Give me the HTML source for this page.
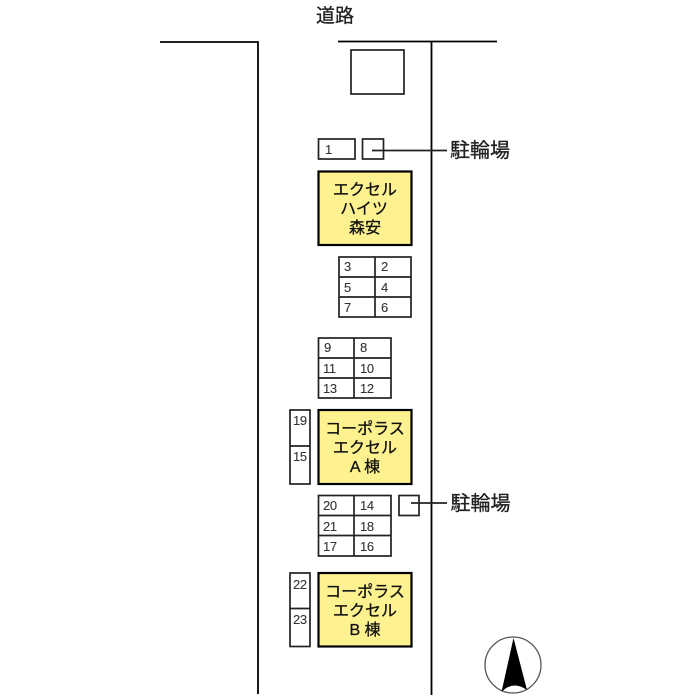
<!DOCTYPE html>
<html lang="ja">
<head>
<meta charset="utf-8">
<style>
html,body{margin:0;padding:0;background:#fff;}
svg{display:block;}
text{font-family:"Liberation Sans","Noto Sans CJK JP",sans-serif;fill:#222;}
.n{font-size:13px;fill:#333;stroke:#333;stroke-width:.1;letter-spacing:-.4px;}
.y{font-size:16px;text-anchor:middle;fill:#111;stroke:#111;stroke-width:.3;}
.l{font-size:20px;fill:#222;stroke:#222;stroke-width:.35;}
.b{fill:#fff;stroke:#222;stroke-width:1.700;}
.g{fill:none;stroke:#222;stroke-width:1.700;}
.r{fill:none;stroke:#000;stroke-width:1.800;}
.f{fill:#fdf28f;stroke:#000;stroke-width:2.200;}
</style>
</head>
<body>
<svg width="700" height="700" viewBox="0 0 700 700" xmlns="http://www.w3.org/2000/svg">
<rect width="700" height="700" fill="#fff"/>

<!-- roads -->
<path class="r" d="M160 42H258V694"/>
<path class="r" d="M338 41.500H497M431.500 41V695"/>
<text x="316" y="22" style="font-size:19px;stroke:#222;stroke-width:.3">道路</text>

<rect class="b" x="351" y="50" width="53" height="44"/>

<!-- top bike parking -->
<rect class="b" x="318.500" y="139" width="36.500" height="20"/>
<rect class="b" x="362.500" y="139" width="21" height="20"/>
<text class="n" x="325" y="154">1</text>
<path class="g" d="M372 150.500H447"/>
<text class="l" x="450" y="157">駐輪場</text>

<!-- Excel Heights -->
<rect class="f" x="318.500" y="171.500" width="93" height="73.500"/>
<text class="y" x="365" y="195">エクセル</text>
<text class="y" x="364" y="214">ハイツ</text>
<text class="y" x="365" y="233">森安</text>

<!-- grid 3-7 -->
<rect class="b" x="339" y="257" width="72" height="60"/>
<path class="g" d="M375 257V317M339 277H411M339 297H411"/>
<text class="n" x="344" y="271">3</text><text class="n" x="381" y="271">2</text>
<text class="n" x="344" y="292">5</text><text class="n" x="381" y="292">4</text>
<text class="n" x="344" y="312">7</text><text class="n" x="381" y="312">6</text>

<!-- grid 8-13 -->
<rect class="b" x="318.500" y="338" width="72.500" height="60"/>
<path class="g" d="M354 338V398M318 358H391M318 378H391"/>
<text class="n" x="324" y="352">9</text><text class="n" x="360" y="352">8</text>
<text class="n" x="323" y="373">11</text><text class="n" x="360" y="373">10</text>
<text class="n" x="323" y="393">13</text><text class="n" x="360" y="393">12</text>

<!-- 19 / 15 -->
<rect class="b" x="290" y="410" width="20" height="74"/>
<path class="g" d="M290 446H310"/>
<text class="n" x="293" y="425">19</text>
<text class="n" x="293" y="461">15</text>

<!-- Corporas A -->
<rect class="f" x="318.500" y="410" width="93" height="74"/>
<text class="y" x="365" y="434">コーポラス</text>
<text class="y" x="365" y="453">エクセル</text>
<text class="y" x="365" y="472">A 棟</text>

<!-- grid 14-21 -->
<rect class="b" x="318.500" y="495.500" width="72.500" height="60.500"/>
<path class="g" d="M354 495V556M318 515.500H391M318 535.500H391"/>
<text class="n" x="323" y="510">20</text><text class="n" x="360" y="510">14</text>
<text class="n" x="323" y="531">21</text><text class="n" x="360" y="531">18</text>
<text class="n" x="323" y="551">17</text><text class="n" x="360" y="551">16</text>

<!-- lower bike parking -->
<rect class="b" x="399" y="495.500" width="20" height="20"/>
<path class="g" d="M411 503H447"/>
<text class="l" x="450.500" y="510">駐輪場</text>

<!-- 22 / 23 -->
<rect class="b" x="290" y="573" width="20" height="73.500"/>
<path class="g" d="M290 608.500H310"/>
<text class="n" x="293" y="589">22</text>
<text class="n" x="293" y="624">23</text>

<!-- Corporas B -->
<rect class="f" x="318.500" y="573" width="93" height="73.500"/>
<text class="y" x="365" y="597">コーポラス</text>
<text class="y" x="365" y="616">エクセル</text>
<text class="y" x="365" y="635">B 棟</text>

<!-- compass -->
<circle cx="513" cy="665" r="28" fill="#fff" stroke="#555" stroke-width="1.300"/>
<path d="M513.500 638L527 690Q513 680 501.500 692Z" fill="#000"/>
</svg>
</body>
</html>
